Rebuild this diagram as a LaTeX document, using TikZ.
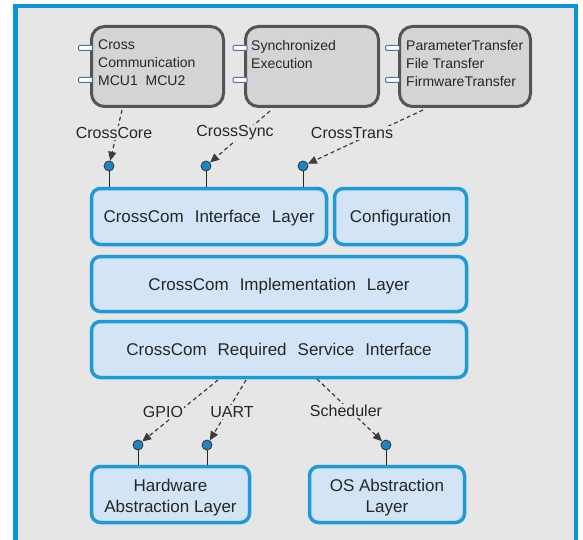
\documentclass[tikz,border=0pt]{standalone}
\usepackage{fontspec}
\setmainfont{Liberation Sans}
\usetikzlibrary{arrows.meta}
\definecolor{frameblue}{HTML}{0A96D6}
\definecolor{bgray}{HTML}{E6E6E6}
\definecolor{boxblue}{HTML}{1E9AD8}
\definecolor{boxfill}{HTML}{D2E4F6}
\definecolor{topfill}{HTML}{D4D4D4}
\definecolor{topdraw}{HTML}{555555}
\definecolor{portdraw}{HTML}{4F73A8}
\definecolor{dotfill}{HTML}{1B86C6}
\definecolor{txt}{HTML}{262626}
\definecolor{conncol}{HTML}{3C3C3C}
\newcommand{\widespaces}{\spaceskip=11pt plus 1pt\relax}
\begin{document}
\begin{tikzpicture}[x=1pt,y=-1pt,
  layer/.style={draw=boxblue, fill=boxfill, line width=3.5pt, rounded corners=9pt,
    text=txt, font=\fontsize{17}{20}\selectfont, inner sep=0pt, align=center,
    text height=12pt, text depth=0pt},
  spaced/.style={font=\fontsize{17}{20}\selectfont\widespaces},
  box/.style={draw=boxblue, fill=boxfill, line width=3.5pt, rounded corners=9pt, inner sep=0pt},
  boxtext/.style={text=txt, font=\fontsize{17}{20.5}\selectfont, inner sep=0pt, align=center},
  comp/.style={draw=topdraw, fill=topfill, line width=3pt, rounded corners=13pt, inner sep=0pt},
  comptext/.style={anchor=north west, align=left, inner sep=0pt, text=txt,
    font=\fontsize{14}{18}\selectfont},
  port/.style={draw=portdraw, fill=white, line width=1pt, rounded corners=1pt,
    minimum width=14pt, minimum height=5pt, inner sep=0pt},
  dot/.style={circle, draw=black!80, fill=dotfill, line width=0.8pt,
    minimum size=10pt, inner sep=0pt},
  conn/.style={draw=conncol, line width=1.2pt, dash pattern=on 4pt off 3pt,
    -{Triangle[length=9pt,width=8pt]}},
  stem/.style={draw=black!85, line width=0.9pt},
  lab/.style={fill=bgray, inner sep=1pt, text=txt, font=\fontsize{16}{19}\selectfont}
]
\useasboundingbox (0,0) rectangle (583,540);
\begin{scope}
\clip (0,0) rectangle (583,540);
\fill[white] (0,0) rectangle (583,540);
\filldraw[fill=bgray, draw=frameblue, line width=4.5pt] (15.5,6) rectangle (576,560);
\end{scope}

% top components
\node[comp, minimum width=132pt, minimum height=80pt] (b1) at (157.5,66.5) {};
\node[comp, minimum width=133pt, minimum height=80pt] (b2) at (312,66.5) {};
\node[comp, minimum width=131pt, minimum height=80pt] (b3) at (465,66.5) {};
\node[comptext] (t1) at (98,39.8) {Cross\\Communication\\MCU1\ \ MCU2};
\node[comptext] (t2) at (251,39.8) {Synchronized\\Execution};
\node[comptext] (t3) at (406,39.8) {ParameterTransfer\\File Transfer\\FirmwareTransfer};
\node[port] (p1a) at (85.5,48) {};
\node[port] (p1b) at (85.5,80) {};
\node[port] (p2a) at (240,48) {};
\node[port] (p2b) at (240,80) {};
\node[port] (p3a) at (392.5,48) {};
\node[port] (p3b) at (392.5,80) {};

% layers
\node[layer, spaced, minimum width=235pt, minimum height=56pt] (iface) at (209,216.5) {CrossCom Interface Layer};
\node[layer, minimum width=132pt, minimum height=56pt] (config) at (400.5,216.5) {Configuration};
\node[layer, spaced, minimum width=375pt, minimum height=55pt] (impl) at (279,284) {CrossCom Implementation Layer};
\node[layer, spaced, minimum width=375pt, minimum height=56pt] (req) at (279,349.5) {CrossCom Required Service Interface};
\node[box, minimum width=158pt, minimum height=56pt] (hal) at (170.5,494.5) {};
\node[box, minimum width=155pt, minimum height=56pt] (osal) at (387,494.5) {};
\node[boxtext] (halt) at (170.5,497.5) {Hardware\\Abstraction Layer};
\node[boxtext] (osalt) at (387,497.5) {OS Abstraction\\Layer};

% interface dots
\node[dot] (d1) at (109,166) {};
\node[dot] (d2) at (206,166) {};
\node[dot] (d3) at (303,166) {};
\node[dot] (d4) at (138,445) {};
\node[dot] (d5) at (207,445) {};
\node[dot] (d6) at (386,445) {};
\draw[stem] (d1.south) -- (d1.south |- iface.north);
\draw[stem] (d2.south) -- (d2.south |- iface.north);
\draw[stem] (d3.south) -- (d3.south |- iface.north);
\draw[stem] (d4.south) -- (d4.south |- hal.north);
\draw[stem] (d5.south) -- (d5.south |- hal.north);
\draw[stem] (d6.south) -- (d6.south |- osal.north);

% dashed connectors
\coordinate (s1) at (122,110);
\coordinate (s2) at (270,111);
\coordinate (s3) at (423,110);
\coordinate (s4) at (218,380);
\coordinate (s5) at (246,380);
\coordinate (s6) at (317,379);
\draw[conn] (s1) -- (d1);
\draw[conn] (s2) -- (d2);
\draw[conn] (s3) -- (d3);
\draw[conn] (s4) -- (d4);
\draw[conn] (s5) -- (d5);
\draw[conn] (s6) -- (d6);

% labels
\node[lab] (l1) at (114,133) {CrossCore};
\node[lab] (l2) at (235,133) {CrossSync};
\node[lab] (l3) at (352,133) {CrossTrans};
\node[lab] (l4) at (163,412) {GPIO};
\node[lab] (l5) at (232,412) {UART};
\node[lab] (l6) at (346,411) {Scheduler};
\end{tikzpicture}
\end{document}
